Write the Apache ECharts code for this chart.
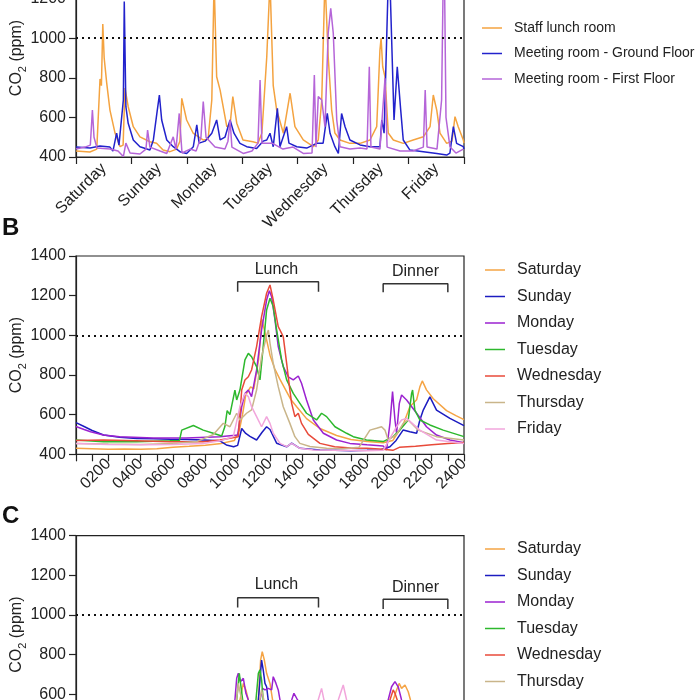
<!DOCTYPE html>
<html><head><meta charset="utf-8">
<script src="https://cdn.jsdelivr.net/npm/echarts@6/dist/echarts.min.js"></script>
<style>html,body{margin:0;padding:0;background:#fff}#c{width:700px;height:700px}</style>
</head><body><div id="c"></div>
<script>
const dayLabels = ['Saturday','Sunday','Monday','Tuesday','Wednesday','Thursday','Friday'];
const timeLabels = ['0200','0400','0600','0800','1000','1200','1400','1600','1800','2000','2200','2400'];
const roomNames = ['Staff lunch room','Meeting room - Ground Floor','Meeting room - First Floor'];
const dayNames = ['Saturday','Sunday','Monday','Tuesday','Wednesday','Thursday','Friday'];

// Panel A: hours since Saturday 00:00, CO2 ppm
const staffLunch = [[0,430],[3,428],[6,425],[9,440],[10.4,794],[11,760],[11.6,1072],[12.2,900],[13.3,773],[14.7,637],[16.9,521],[19.1,452],[20.4,460],[21.2,748],[22.6,654],[24.8,553],[27.7,502],[32,477],[34.9,469],[37.7,435],[40.7,427],[43.6,440],[45,480],[45.8,696],[47.9,587],[50.7,521],[55,486],[57.2,490],[58.8,688],[59.8,1290],[60.9,805],[62.4,738],[65.3,553],[66.7,560],[67.9,705],[69.6,571],[72.3,486],[76.6,477],[78.8,470],[80.5,521],[82.6,906],[84,1290],[85.4,760],[86.9,637],[89.8,520],[92.7,722],[94.8,553],[98.4,486],[102.8,452],[104.9,486],[106.4,688],[107.8,1300],[109.2,906],[110.7,637],[112.1,521],[114.3,486],[118.6,469],[123,469],[127.3,486],[130.2,553],[131.6,940],[132.1,1000],[132.8,856],[133.8,805],[135.2,521],[137.4,486],[141.7,469],[146,486],[150.4,502],[153.3,553],[154.7,713],[156.2,637],[157.6,521],[160.5,469],[162.8,480],[164.1,604],[165.5,553],[167.7,486],[168,470]];
const meetingGround = [[0,450],[6.1,445],[10.4,455],[14.7,450],[16,430],[17.6,521],[18.6,460],[20.5,688],[20.9,1185],[21.6,654],[22.6,570],[24.8,486],[27.7,452],[32,435],[33.5,486],[35.2,637],[36.1,713],[37.1,587],[39.3,486],[42.1,452],[45,427],[47.9,418],[50.8,452],[52.3,562],[53.3,470],[55.9,480],[58.8,520],[60.9,587],[62.4,486],[64.5,500],[66.7,587],[68.4,520],[71,469],[73.9,452],[78.2,443],[81,480],[82.6,486],[84,520],[85.4,452],[87.2,646],[88.3,452],[91.2,553],[92.2,470],[95.6,452],[99.9,445],[104.2,469],[107,470],[108.8,620],[110,520],[112.1,452],[113.6,418],[115,620],[116.5,553],[118.6,486],[123,461],[127.3,452],[131.6,452],[132.4,587],[133.4,520],[135.2,1290],[136,1260],[137.7,587],[139.1,856],[140.6,637],[141.7,486],[144.6,435],[150.4,427],[156.2,418],[160.5,410],[161.9,420],[163.4,553],[164.8,469],[167.7,452],[168,440]];
const meetingFirst = [[0,440],[3.9,450],[6.2,460],[7.1,637],[7.8,500],[9.1,445],[14.7,440],[18.2,430],[20.5,402],[21.6,470],[23.4,420],[27.7,415],[30.3,440],[31,536],[32,450],[36.4,430],[39.3,418],[42.1,502],[43.3,440],[44.7,620],[45.9,420],[49.4,440],[52,430],[54.1,500],[55.1,680],[56.3,500],[60.2,450],[64.5,440],[65.8,480],[66.7,587],[67.5,450],[72.4,418],[76.2,430],[78.8,470],[79.7,789],[80.5,470],[84.9,470],[89.6,440],[94,450],[98.4,418],[102.2,420],[103.2,814],[103.9,450],[104.9,705],[106.4,688],[107.8,553],[109.2,1025],[110.3,1151],[111.4,1025],[112.9,587],[114.3,452],[118.6,440],[123,445],[126,440],[127,856],[127.7,450],[131.6,440],[133.8,797],[134.7,450],[140.3,430],[145.9,430],[150.4,450],[151.2,738],[152,450],[156.3,440],[158.3,688],[159,1300],[159.6,1250],[160.2,600],[161.9,452],[164.5,420],[167.7,440],[168,440]];

// Panel B: time of day (0-2400), CO2 ppm
const bSat = [[0,430],[100,428],[200,425],[300,427],[400,425],[500,428],[600,435],[700,440],[800,446],[900,455],[980,470],[1010,520],[1030,600],[1050,700],[1080,740],[1100,730],[1130,880],[1150,1080],[1170,1010],[1200,900],[1230,830],[1260,780],[1300,720],[1330,675],[1365,640],[1426,580],[1509,530],[1612,495],[1700,475],[1800,465],[1900,458],[1960,470],[2024,550],[2065,640],[2107,675],[2127,740],[2142,770],[2168,725],[2210,680],[2292,620],[2350,595],[2400,575]];
const bSun = [[0,560],[50,540],[100,520],[170,497],[270,486],[375,480],[480,478],[580,476],[690,475],[790,472],[890,468],[930,447],[975,438],[1000,445],[1025,530],[1050,505],[1076,490],[1117,472],[1150,510],[1179,539],[1200,525],[1241,456],[1303,438],[1334,456],[1385,430],[1509,422],[1600,420],[1700,418],[1800,420],[1880,422],[1942,438],[1980,470],[2024,523],[2065,514],[2107,506],[2127,573],[2148,623],[2189,690],[2230,623],[2313,581],[2400,545]];
const bMon = [[0,540],[50,525],[90,514],[170,497],[270,489],[480,482],[680,482],[890,489],[1000,497],[1025,640],[1045,707],[1066,724],[1086,691],[1117,825],[1148,1027],[1179,1178],[1196,1225],[1210,1195],[1231,1077],[1251,943],[1282,842],[1313,791],[1344,775],[1375,795],[1395,758],[1426,674],[1468,573],[1530,506],[1612,472],[1694,455],[1800,448],[1900,442],[1921,422],[1942,556],[1958,716],[1973,573],[1983,506],[2000,657],[2014,699],[2045,674],[2107,607],[2168,539],[2230,497],[2313,472],[2400,458]];
const bTue = [[0,472],[170,463],[375,463],[580,468],[640,470],[654,522],[726,545],[787,522],[849,506],[901,492],[921,540],[935,620],[952,600],[983,724],[994,674],[1014,724],[1045,876],[1066,909],[1086,892],[1117,842],[1138,775],[1158,943],[1179,1128],[1200,1187],[1220,1145],[1241,1027],[1272,876],[1303,775],[1344,707],[1385,657],[1426,607],[1488,573],[1519,607],[1550,590],[1602,539],[1674,506],[1715,489],[1797,472],[1900,464],[1962,489],[2003,522],[2055,573],[2076,707],[2082,724],[2096,623],[2127,573],[2189,548],[2271,522],[2400,489]];
const bWed = [[0,470],[170,472],[375,468],[580,463],[787,463],[890,472],[1004,489],[1025,724],[1045,775],[1066,791],[1086,825],[1117,943],[1148,1094],[1179,1212],[1200,1254],[1220,1178],[1251,1044],[1272,1010],[1282,993],[1303,859],[1323,724],[1334,657],[1354,590],[1375,607],[1395,556],[1437,500],[1509,455],[1600,438],[1700,432],[1800,430],[1900,425],[1960,420],[2000,435],[2100,440],[2200,448],[2300,455],[2400,460]];
const bThu = [[0,455],[200,452],[400,450],[600,455],[750,465],[850,500],[911,556],[952,539],[994,607],[1014,573],[1055,607],[1086,624],[1117,724],[1148,892],[1179,1000],[1190,1027],[1200,960],[1220,859],[1251,741],[1282,640],[1323,556],[1354,489],[1385,455],[1447,439],[1550,430],[1650,428],[1750,435],[1818,522],[1859,531],[1890,539],[1911,522],[1931,472],[1983,500],[2024,556],[2055,573],[2117,522],[2230,489],[2400,472]];
const bFri = [[0,455],[200,450],[400,448],[600,450],[787,455],[900,470],[973,489],[1014,640],[1045,707],[1066,691],[1086,640],[1117,590],[1148,539],[1179,590],[1189,598],[1200,556],[1220,506],[1262,455],[1303,439],[1334,455],[1385,430],[1468,422],[1600,420],[1800,418],[1900,420],[1983,539],[2014,573],[2045,581],[2127,522],[2230,472],[2400,455]];

// Panel C
const cSat = [[0,440],[900,445],[1000,470],[1014,570],[1035,654],[1051,621],[1066,570],[1090,520],[1128,570],[1142,772],[1152,814],[1165,772],[1179,705],[1200,654],[1216,570],[1250,500],[1400,460],[1800,450],[1940,500],[1962,570],[1983,621],[1999,654],[2014,629],[2035,646],[2055,612],[2069,570],[2100,500],[2400,450]];
const cSun = [[0,440],[1000,450],[1100,470],[1128,570],[1138,671],[1148,772],[1158,722],[1169,654],[1179,637],[1189,570],[1220,490],[1400,450],[2400,440]];
const cMon = [[0,450],[960,460],[983,570],[994,680],[1004,705],[1018,663],[1035,680],[1051,604],[1066,570],[1100,520],[1138,570],[1154,629],[1169,621],[1189,629],[1210,621],[1220,688],[1237,654],[1251,621],[1262,570],[1300,520],[1334,570],[1348,604],[1365,579],[1375,570],[1420,500],[1900,460],[1931,570],[1952,637],[1973,663],[1993,637],[2014,570],[2050,500],[2400,450]];
const cTue = [[0,450],[970,460],[994,570],[1010,705],[1018,654],[1031,570],[1070,500],[1113,570],[1128,705],[1138,722],[1148,671],[1158,570],[1200,500],[2400,450]];
const cWed = [[0,450],[1900,460],[1942,570],[1962,621],[1973,604],[1987,570],[2020,490],[2400,450]];
const cThu = [[0,450],[980,470],[1004,654],[1025,570],[1060,510],[1130,540],[1148,621],[1165,560],[1200,490],[2400,450]];
const cFri = [[0,450],[1470,470],[1498,570],[1519,629],[1534,570],[1570,480],[1622,570],[1653,646],[1674,570],[1710,480],[2400,450]];

const lunchSpan = [1000, 1500];
const dinnerSpan = [1900, 2300];

const roomColors = ['#F4A340','#2222CC','#B565D8'];
const dayColors = ['#F5A445','#1C1CC0','#9B22D0','#2DB82D','#E84A3A','#C9B58A','#F2A6DC'];

const FONT = '"Liberation Sans", Arial, sans-serif';
const TXT = '#222';

function ls(name, data, color, xi, yi) {
  return {type:'line', name, data, xAxisIndex:xi, yAxisIndex:yi, symbol:'none', showSymbol:false,
    lineStyle:{width:1.5, color}, itemStyle:{color}, silent:true, animation:false};
}
function threshold() {
  return {silent:true, symbol:['none','none'], label:{show:false},
    lineStyle:{color:'#111', width:2, type:[2,4]}, data:[{yAxis:1000}]};
}
function bracket(span, yTop, yEnd, label, yLabel, xLabel, xi, yi) {
  return {type:'line', name:'_'+label, xAxisIndex:xi, yAxisIndex:yi, symbol:'none', silent:true, z:5,
    data:[[span[0],yEnd],[span[0],yTop],[span[1],yTop],[span[1],yEnd]],
    lineStyle:{color:'#333', width:1.5}, itemStyle:{color:'#333'},
    markPoint:{symbol:'circle', symbolSize:0, silent:true,
      data:[{name:label, coord:[xLabel, yLabel]}],
      label:{show:true, formatter:'{b}', position:'inside', fontSize:16, color:TXT, fontFamily:FONT}}};
}
function yAx(gi) {
  return {type:'value', gridIndex:gi, min:400, max:1400, interval:200,
    axisLine:{show:true, lineStyle:{color:'#222', width:1.2}},
    axisTick:{show:true, length:7, lineStyle:{color:'#222', width:1.2}},
    axisLabel:{fontSize:16, color:TXT, margin:10, fontFamily:FONT, formatter:v => String(v)},
    splitLine:{show:false},
    name:'CO{s|2} (ppm)', nameLocation:'middle', nameGap:48, nameMoveOverlap:false,
    nameTextStyle:{fontSize:16, color:TXT, fontFamily:FONT,
      rich:{s:{fontSize:11, verticalAlign:'bottom', lineHeight:22, color:TXT, fontFamily:FONT}}}};
}
function tAx(gi) {
  return {type:'value', gridIndex:gi, min:0, max:2400, interval:100,
    axisLine:{show:true, lineStyle:{color:'#222', width:1.2}},
    axisTick:{show:true, length:7, lineStyle:{color:'#222', width:1.2}},
    axisLabel:{fontSize:16, color:TXT, rotate:45, margin:7, fontFamily:FONT, showMaxLabel:true,
      formatter:v => (v > 0 && v % 200 === 0) ? timeLabels[v/200 - 1] : ''},
    splitLine:{show:false}};
}
function leg(names, top, left, fs, gap) {
  return {data:names, orient:'vertical', left, top, height:220, padding:0, icon:'rect', itemWidth:20, itemHeight:1.5,
    itemGap:gap, selectedMode:false,
    textStyle:{fontSize:fs, lineHeight:fs, color:TXT, fontFamily:FONT, padding:[0,0,0,7]}};
}

const chart = echarts.init(document.getElementById('c'), null, {renderer:'canvas'});
const gridBase = {left:76, width:388, show:true, borderColor:'#222', borderWidth:1.2, backgroundColor:'transparent', outerBoundsMode:'none', containLabel:false};
const bData = [bSat,bSun,bMon,bTue,bWed,bThu,bFri];
const cData = [cSat,cSun,cMon,cTue,cWed,cThu,cFri];
const series = [];
[staffLunch, meetingGround, meetingFirst].forEach((d,i) => series.push(ls(roomNames[i], d, roomColors[i], 0, 0)));
series[0].markLine = threshold();
bData.forEach((d,i) => series.push(ls(dayNames[i], d, dayColors[i], 2, 1)));
series[3].markLine = threshold();
cData.forEach((d,i) => series.push(ls(dayNames[i], d, dayColors[i], 3, 2)));
series[10].markLine = threshold();
series.push(bracket(lunchSpan, 1270, 1220, 'Lunch', 1330, 1240, 2, 1));
series.push(bracket(dinnerSpan, 1260, 1217, 'Dinner', 1320, 2100, 2, 1));
series.push(bracket(lunchSpan, 1087, 1038, 'Lunch', 1151, 1240, 3, 2));
series.push(bracket(dinnerSpan, 1079, 1030, 'Dinner', 1140, 2100, 3, 2));

chart.setOption({
  animation:false,
  backgroundColor:'#fff',
  textStyle:{fontFamily:FONT},
  grid:[
    Object.assign({top:-41, height:198}, gridBase),
    Object.assign({top:256, height:198.3}, gridBase),
    Object.assign({top:535.7, height:198}, gridBase)
  ],
  xAxis:[
    {type:'value', gridIndex:0, min:0, max:168, interval:24,
      axisLine:{show:true, lineStyle:{color:'#222', width:1.2}},
      axisTick:{show:true, length:7, lineStyle:{color:'#222', width:1.2}},
      axisLabel:{show:false}, splitLine:{show:false}},
    {type:'category', gridIndex:0, position:'bottom', data:dayLabels, boundaryGap:true,
      axisLine:{show:false}, axisTick:{show:false},
      axisLabel:{interval:0, rotate:45, margin:9, fontSize:16, color:TXT, fontFamily:FONT}},
    tAx(1), tAx(2)
  ],
  yAxis:[yAx(0), yAx(1), yAx(2)],
  legend:[
    leg(roomNames, 21, 482, 14, 11.5),
    leg(dayNames, 262, 485, 16, 10.5),
    leg(dayNames, 541, 485, 16, 10.5)
  ],
  graphic:[
    {type:'text', left:2, top:216, style:{text:'B', font:'bold 24px "Liberation Sans", Arial', fill:'#111'}},
    {type:'text', left:2, top:504, style:{text:'C', font:'bold 24px "Liberation Sans", Arial', fill:'#111'}}
  ],
  series
});
</script></body></html>
